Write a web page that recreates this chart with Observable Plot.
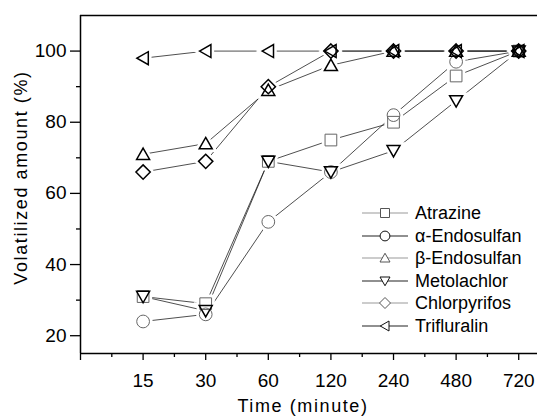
<!DOCTYPE html>
<html>
<head>
<meta charset="utf-8">
<script src="https://cdn.jsdelivr.net/npm/d3@7"></script>
<script src="https://cdn.jsdelivr.net/npm/@observablehq/plot@0.6"></script>
<style>
  html, body { margin: 0; padding: 0; background: #fff; }
  #wrap { position: relative; width: 537px; height: 417px; font-family: "Liberation Sans", Arial, sans-serif; }
  #legend { position: absolute; left: 362px; top: 202px; font-size: 18px; color: #000; }
  .row { display: flex; align-items: center; height: 22.5px; }
  .row svg { display: block; }
  .row span { margin-left: 7px; line-height: 1; }
</style>
</head>
<body>
<div id="wrap"><div id="chart"></div><div id="legend"></div></div>
<script>
// ---- data ----
const times = ["15", "30", "60", "120", "240", "480", "720"];
const atrazine     = [31, 29, 69, 75, 80, 93, 100];
const alphaEndo    = [24, 26, 52, 66, 82, 97, 100];
const betaEndo     = [71, 74, 89, 96, 100, 100, 100];
const metolachlor  = [31, 27, 69, 66, 72, 86, 100];
const chlorpyrifos = [66, 69, 90, 100, 100, 100, 100];
const trifluralin  = [98, 100, 100, 100, 100, 100, 100];
const seriesNames = ["Atrazine", "α-Endosulfan", "β-Endosulfan", "Metolachlor", "Chlorpyrifos", "Trifluralin"];
const seriesValues = [atrazine, alphaEndo, betaEndo, metolachlor, chlorpyrifos, trifluralin];
const yMajor = [20, 40, 60, 80, 100];
const yMinor = [30, 50, 70, 90];

// ---- symbols ----
function poly(pts) {
  return {draw(ctx, size) {
    const h = Math.sqrt(size / Math.PI);
    ctx.moveTo(pts[0][0] * h, pts[0][1] * h);
    for (let k = 1; k < pts.length; k++) ctx.lineTo(pts[k][0] * h, pts[k][1] * h);
    ctx.closePath();
  }};
}
const circleSym = {draw(ctx, size) { const h = Math.sqrt(size / Math.PI) * 0.98; ctx.moveTo(h, 0); ctx.arc(0, 0, h, 0, 2 * Math.PI); ctx.closePath(); }};
const squareSym = poly([[-0.9, -0.9], [0.9, -0.9], [0.9, 0.9], [-0.9, 0.9]]);
const upSym = poly([[0, -0.95], [1, 0.8], [-1, 0.8]]);
const downSym = poly([[0, 0.95], [1, -0.8], [-1, -0.8]]);
const diamondSym = poly([[0, -1.1], [1.1, 0], [0, 1.1], [-1.1, 0]]);
const leftSym = poly([[-0.95, 0], [0.8, -1], [0.8, 1]]);

const styles = [
  {symbol: squareSym, mstroke: "#666", mwidth: 1, legLine: "#999"},
  {symbol: circleSym, mstroke: "#666", mwidth: 1, legLine: "#222"},
  {symbol: upSym, mstroke: "#000", mwidth: 1.5, legLine: "#999"},
  {symbol: downSym, mstroke: "#000", mwidth: 1.5, legLine: "#222"},
  {symbol: diamondSym, mstroke: "#000", mwidth: 1.5, legLine: "#999"},
  {symbol: leftSym, mstroke: "#000", mwidth: 1.5, legLine: "#222"}
];

const rows = [];
seriesNames.forEach((name, s) => seriesValues[s].forEach((v, i) => rows.push({s, name, i: i + 1, v})));

const lineMarks = seriesNames.map((name, s) =>
  Plot.line(rows.filter(d => d.s === s), {x: "i", y: "v", stroke: "#222", strokeWidth: 0.8}));
const haloMarks = seriesNames.map((name, s) =>
  Plot.dot(rows.filter(d => d.s === s), {x: "i", y: "v", symbol: () => styles[s].symbol, r: 6.5, fill: "white", stroke: "white", strokeWidth: 6.5}));
const dotMarks = seriesNames.map((name, s) =>
  Plot.dot(rows.filter(d => d.s === s), {x: "i", y: "v", symbol: () => styles[s].symbol, r: 6.5, fill: "none", stroke: styles[s].mstroke, strokeWidth: styles[s].mwidth}));

const xMajor = [0, 1, 2, 3, 4, 5, 6, 7];
const xMinor = [0.5, 1.5, 2.5, 3.5, 4.5, 5.5, 6.5];

const chart = Plot.plot({
  width: 537,
  height: 417,
  marginLeft: 80,
  marginRight: 0,
  marginTop: 15,
  marginBottom: 64,
  style: {fontFamily: "Liberation Sans, Arial, sans-serif", fontSize: "19px", color: "#000", background: "#fff"},
  x: {type: "linear", domain: [0, 7.3], axis: null},
  y: {type: "linear", domain: [15, 110], axis: null},
  symbol: {type: "identity"},
  marks: [
    Plot.axisX({ticks: xMajor, tickSize: 7, tickPadding: 13, tickFormat: i => times[i - 1] ?? "", label: "Time (minute)", labelAnchor: "center", labelOffset: 58, labelArrow: "none", strokeWidth: 1.3}),
    Plot.axisX({ticks: xMinor, tickSize: 4, tickFormat: () => "", label: null, strokeWidth: 1.3}),
    Plot.axisY({ticks: yMajor, tickSize: 10, tickPadding: 4, label: "Volatilized amount (%)", labelAnchor: "center", labelOffset: 66, labelArrow: "none", strokeWidth: 1.3}),
    Plot.axisY({ticks: yMinor, tickSize: 4, tickFormat: () => "", label: null, strokeWidth: 1.3}),
    Plot.ruleY([110], {strokeWidth: 1.5}),
    Plot.ruleY([15], {strokeWidth: 1.5}),
    Plot.ruleX([0], {strokeWidth: 1.5}),
    ...lineMarks,
    ...haloMarks,
    ...dotMarks
  ]
});
document.getElementById("chart").appendChild(chart);

// axis title styling (wide lettering as in the reference)
d3.select(chart).selectAll('[aria-label="x-axis label"] text')
  .style("font-size", "18px").style("letter-spacing", "1.6px").attr("dx", -6);
d3.select(chart).selectAll('[aria-label="y-axis label"] text')
  .style("font-size", "18px").style("letter-spacing", "1.6px").attr("dx", 7);

// ---- legend ----
const legend = d3.select("#legend");
seriesNames.forEach((name, s) => {
  const row = legend.append("div").attr("class", "row");
  const svg = row.append("svg").attr("width", 46).attr("height", 20);
  svg.append("line").attr("x1", 0).attr("x2", 46).attr("y1", 10).attr("y2", 10).attr("stroke", styles[s].legLine).attr("stroke-width", 1.2);
  svg.append("path").attr("transform", "translate(23,10)")
    .attr("d", d3.symbol().type(styles[s].symbol).size(Math.PI * 25)())
    .attr("fill", "white").attr("stroke", s % 2 === 0 ? "#555" : "#111").attr("stroke-width", 1);
  row.append("span").text(name);
});
</script>
</body>
</html>
